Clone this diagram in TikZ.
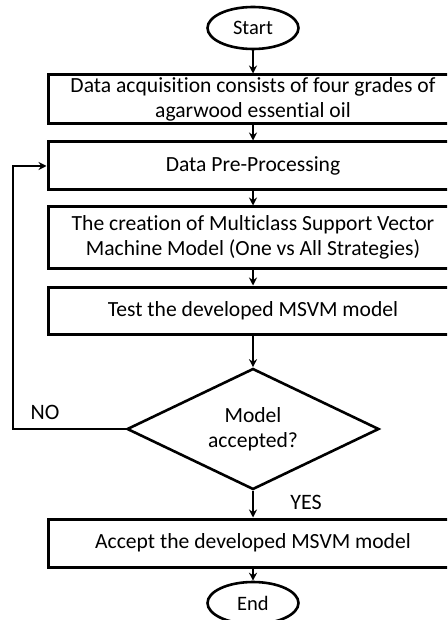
\documentclass[tikz,border=0pt]{standalone}
\usepackage{fontspec}
\setmainfont{Carlito}[Ligatures=CommonOff]
\usetikzlibrary{shapes.geometric,arrows.meta}
\begin{document}
\begin{tikzpicture}[x=1pt,y=-1pt,
  every node/.style={font=\fontsize{21.6}{25}\selectfont, text=black},
  box/.style={draw, line width=3pt, minimum width=410pt, align=center, inner sep=0pt},
  term/.style={draw, ellipse, line width=2.6pt, minimum width=91pt, minimum height=42pt, inner sep=0pt, font=\fontsize{20.5}{24}\selectfont},
  dec/.style={draw, diamond, line width=2.6pt, minimum width=252pt, minimum height=121pt, aspect=2.08, align=center, inner sep=0pt},
  arr/.style={line width=2.4pt, -{Stealth[length=8pt,width=8pt]}},
  lbl/.style={font=\fontsize{22}{26}\selectfont}]
\useasboundingbox (0,0) rectangle (447,620);
\clip (0,0) rectangle (447,620);
\node[term] (start) at (253,28) {Start};
\node[box, minimum height=49pt] (b1) at (253,99.5) {Data acquisition consists of four grades of\\agarwood essential oil};
\node[box, minimum height=48pt] (b2) at (253,166) {Data Pre-Processing};
\node[box, minimum height=61pt] (b3) at (253,237.5) {The creation of Multiclass Support Vector\\Machine Model (One vs All Strategies)};
\node[box, minimum height=47pt] (b4) at (253,310.5) {Test the developed MSVM model};
\node[dec] (d) at (253,429) {Model\\accepted?};
\node[box, minimum height=48pt] (b5) at (253,543) {Accept the developed MSVM model};
\node[term] (end) at (253,603) {End};
\coordinate (fb) at (13,429);
\node[lbl] (no) at (45,412) {NO};
\node[lbl] (yes) at (306,502) {YES};
\draw[arr] (start) -- (b1);
\draw[arr] (b1) -- (b2);
\draw[arr] (b2) -- (b3);
\draw[arr] (b3) -- (b4);
\draw[arr] (b4) -- (d);
\draw[arr] (d) -- (b5);
\draw[arr] (b5) -- (end);
\draw[arr] (d.west) -- (fb) |- (b2.west);
\end{tikzpicture}
\end{document}
